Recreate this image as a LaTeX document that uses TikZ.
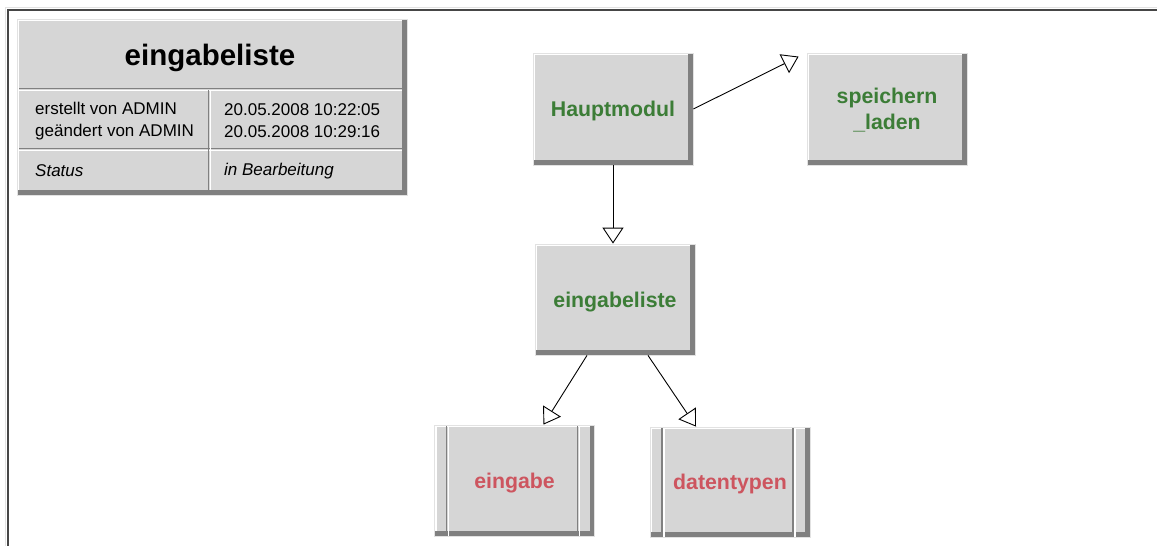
\documentclass[tikz,border=0pt]{standalone}
\usepackage{fontspec}
\setmainfont{Liberation Sans}
\usetikzlibrary{arrows.meta}

\definecolor{boxgray}{RGB}{214,214,214}
\definecolor{shadowgray}{RGB}{128,128,128}
\definecolor{lightline}{RGB}{226,226,226}
\definecolor{framegray}{RGB}{70,70,70}
\definecolor{modgreen}{RGB}{60,125,55}
\definecolor{modred}{RGB}{205,85,95}

% bevelled edge of a box: light top/left, dark bottom/right
\newcommand{\bevelrand}{%
  \draw[white, line width=4pt] (path picture bounding box.south west) -- (path picture bounding box.north west) -- (path picture bounding box.north east);
  \draw[shadowgray, line width=10pt] (path picture bounding box.south west) -- (path picture bounding box.south east) -- (path picture bounding box.north east);
}
% the two inner bars of a sub module
\newcommand{\teilrand}{%
  \draw[shadowgray, line width=1.5pt] ([xshift=12pt]path picture bounding box.south west) -- ([xshift=12pt]path picture bounding box.north west);
  \draw[white, line width=1.5pt] ([xshift=14pt]path picture bounding box.south west) -- ([xshift=14pt]path picture bounding box.north west);
  \draw[shadowgray, line width=1.5pt] ([xshift=-17pt]path picture bounding box.south east) -- ([xshift=-17pt]path picture bounding box.north east);
  \draw[white, line width=1.5pt] ([xshift=-15pt]path picture bounding box.south east) -- ([xshift=-15pt]path picture bounding box.north east);
}

\tikzset{
  modul/.style={rectangle, fill=boxgray, draw=lightline, line width=0.8pt, inner sep=0pt,
    minimum width=160pt, minimum height=112pt, align=center, text=modgreen, text depth=0pt,
    font=\fontsize{21.3}{26}\selectfont\bfseries, path picture={\bevelrand}},
  teilmodul/.style={modul, text=modred, path picture={\bevelrand\teilrand}},
  pfeil/.style={-{Triangle[open,length=16pt,width=21pt]}, line width=0.9pt},
  infotext/.style={anchor=west, inner sep=0pt, align=left, font=\fontsize{17}{22}\selectfont},
}

\begin{document}
\begin{tikzpicture}[x=1pt,y=-1pt]
  \useasboundingbox (0,0) rectangle (1157,546);

  % frame
  \draw[lightline, line width=1pt] (5.5,546) -- (5.5,7.5) -- (1157,7.5);
  \draw[framegray, line width=2pt] (7.5,546) -- (7.5,9.8) -- (1157,9.8);

  % info table
  \node[modul, minimum width=390pt, minimum height=176pt] (info) at (212,107) {};
  \draw[shadowgray, line width=1.5pt] (19,88.5) -- (402,88.5);
  \draw[white, line width=1.5pt] (19,90.5) -- (402,90.5);
  \draw[shadowgray, line width=1.5pt] (19,148.5) -- (402,148.5);
  \draw[white, line width=1.5pt] (19,150.5) -- (402,150.5);
  \draw[shadowgray, line width=1.5pt] (208.5,90) -- (208.5,190);
  \draw[white, line width=1.5pt] (210.5,90) -- (210.5,190);

  \node[font=\fontsize{29.5}{34}\selectfont\bfseries] (titel) at (210,58) {eingabeliste};
  \node[infotext] (wer) at (35,121) {erstellt von ADMIN\\geändert von ADMIN};
  \node[infotext] (wann) at (224,121) {20.05.2008 10:22:05\\20.05.2008 10:29:16};
  \node[infotext, font=\fontsize{17}{22}\selectfont\itshape] (status) at (35,171) {Status};
  \node[infotext, font=\fontsize{17}{22}\selectfont\itshape] (stand) at (224,171) {in Bearbeitung};

  % modules
  \node[modul] (haupt) at (613,109) {Hauptmodul};
  \node[modul] (speichern) at (887,109) {speichern\\\_laden};
  \node[modul, minimum height=111pt] (liste) at (615,299.5) {eingabeliste};
  \node[teilmodul, minimum height=111pt] (eingabe) at (514.5,480.5) {eingabe};
  \node[teilmodul, minimum height=110pt] (typen) at (730,482) {datentypen};

  % calls
  \draw[pfeil] (haupt.east) -- ([shift={(-8,4)}]speichern.north west);
  \draw[pfeil] (haupt.south) -- (haupt.south |- liste.north);
  \draw[pfeil] ([xshift=-28pt]liste.south) -- ([xshift=29pt]eingabe.north);
  \draw[pfeil] ([xshift=33pt]liste.south) -- ([xshift=-34pt]typen.north);
\end{tikzpicture}
\end{document}
